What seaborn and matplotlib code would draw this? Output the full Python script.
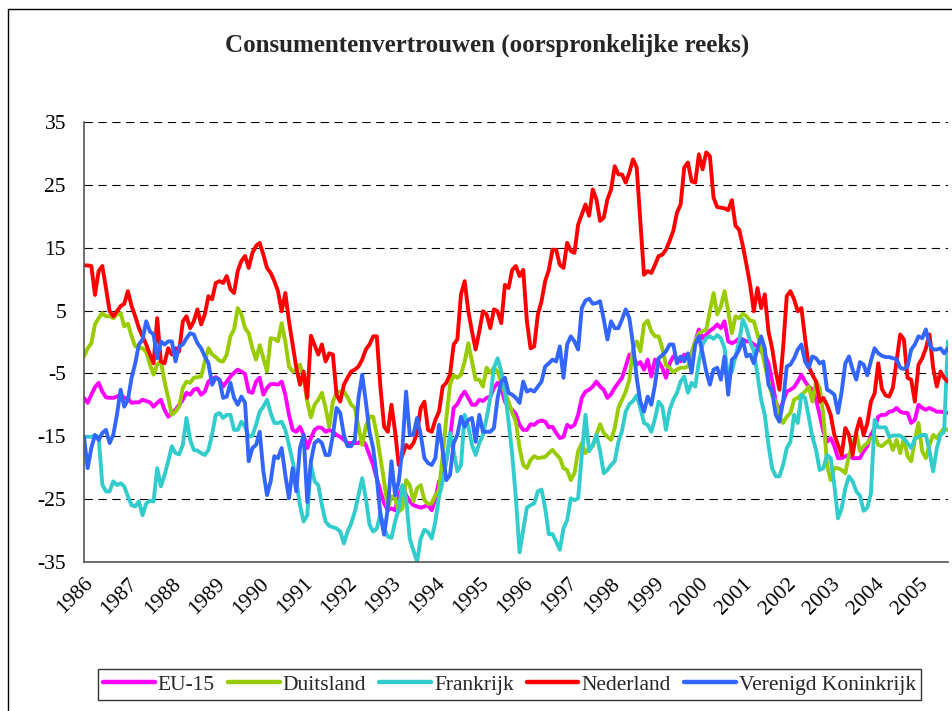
import numpy as np
import pandas as pd
import matplotlib
matplotlib.use("Agg")
import matplotlib.pyplot as plt
import seaborn as sns
from matplotlib.lines import Line2D

# ---------------- data (monthly, Jan 1986 - Sep 2005) ----------------
start_year = 1986
series_names = ["EU-15", "Duitsland", "Frankrijk", "Nederland", "Verenigd Koninkrijk"]
series_colors = ["#FF00FF", "#99CC00", "#33CCCC", "#FF0000", "#3366FF"]
year_labels = [str(y) for y in range(1986, 2006)]
y_ticks = [-35, -25, -15, -5, 5, 15, 25, 35]

eu15 = [
    -8.9, -9.7, -8.4, -7.2, -6.5, -7.9, -8.8, -8.9, -8.9, -8.7, -8.4, -8.9,
    -9.0, -9.7, -9.6, -9.6, -9.2, -9.4, -9.6, -10.3, -9.7, -9.2, -10.8, -11.9,
    -11.3, -10.8, -10.0, -9.2, -8.1, -8.4, -7.6, -7.4, -8.4, -7.9, -6.3, -5.9,
    -5.6, -6.0, -7.1, -6.3, -5.5, -4.9, -4.4, -4.7, -5.1, -7.9, -8.1, -6.3,
    -5.7, -8.4, -7.3, -6.7, -6.7, -6.8, -6.3, -8.4, -11.6, -14.0, -14.3, -13.5,
    -14.8, -16.9, -15.3, -14.0, -13.6, -13.7, -14.3, -14.0, -14.3, -14.8, -15.1, -15.6,
    -16.1, -16.1, -16.1, -16.1, -15.6, -16.4, -18.0, -19.6, -21.7, -23.8, -25.7, -26.8,
    -26.5, -26.8, -24.4, -23.0, -24.4, -25.4, -26.0, -26.2, -26.4, -26.2, -26.0, -26.8,
    -24.9, -22.2, -21.7, -18.8, -15.3, -10.5, -9.9, -8.7, -7.9, -8.9, -10.0, -10.0,
    -9.2, -9.4, -8.9, -8.7, -7.3, -6.5, -7.3, -9.5, -10.4, -10.8, -11.5, -13.2,
    -14.0, -14.0, -13.1, -13.2, -12.7, -12.5, -12.7, -13.6, -13.5, -14.5, -15.3, -15.1,
    -13.2, -13.6, -13.2, -11.6, -8.9, -7.9, -7.6, -7.1, -6.3, -7.1, -7.6, -8.9,
    -8.3, -7.3, -6.5, -5.7, -3.9, -2.0, -2.1, -3.6, -3.2, -4.4, -2.8, -5.5,
    -2.8, -3.1, -4.1, -5.7, -3.4, -2.3, -2.6, -3.1, -2.0, -2.4, -1.8, 0.1,
    2.0, 0.6, 1.2, 1.8, 2.2, 2.8, 2.2, 3.3, 0.1, -0.2, 0.1, 0.6,
    0.4, 0.1, 0.1, -0.4, -0.7, -1.5, -2.0, -3.4, -6.2, -9.5, -11.1, -9.5,
    -7.9, -7.6, -7.2, -6.3, -5.2, -6.3, -7.1, -7.6, -9.2, -11.6, -14.3, -15.9,
    -15.3, -16.6, -18.5, -18.5, -18.2, -18.0, -18.5, -18.5, -18.5, -17.4, -16.6, -14.8,
    -13.7, -11.9, -11.6, -11.6, -11.1, -11.0, -10.5, -11.1, -11.3, -11.3, -12.9, -12.4,
    -10.0, -10.5, -10.8, -10.5, -10.8, -11.1, -11.1, -11.2, -11.3,
]

duitsland = [
    -2.3, -1.0, -0.2, 2.8, 3.8, 4.6, 4.1, 4.1, 3.8, 4.4, 4.6, 2.5,
    2.9, 0.9, -0.7, -0.9, -1.0, -1.6, -3.6, -5.2, -3.6, -3.1, -6.3, -8.9,
    -11.6, -11.1, -10.3, -7.3, -6.3, -6.5, -5.7, -5.6, -5.5, -3.1, -1.0, -2.0,
    -2.4, -3.0, -3.1, -2.0, 0.9, 2.0, 5.4, 4.4, 2.2, 1.4, -1.0, -2.8,
    -0.5, -2.6, -4.7, 0.6, 0.5, 0.1, 3.0, 0.1, -3.9, -4.7, -4.4, -3.6,
    -5.7, -9.5, -12.0, -10.0, -9.2, -8.1, -10.5, -13.5, -9.5, -8.1, -7.9, -7.9,
    -8.8, -10.0, -10.5, -13.5, -16.4, -13.5, -11.9, -11.9, -14.8, -18.5, -22.2, -26.5,
    -24.6, -24.9, -27.0, -26.5, -22.0, -22.8, -25.4, -23.3, -22.8, -25.2, -25.8, -25.7,
    -24.4, -23.6, -18.0, -12.1, -6.8, -5.3, -5.7, -5.2, -3.1, -0.2, -3.1, -6.0,
    -6.0, -7.1, -4.1, -4.9, -4.1, -4.7, -6.5, -8.1, -9.5, -11.3, -12.7, -16.9,
    -19.6, -20.1, -18.8, -18.2, -18.5, -18.4, -18.3, -17.7, -17.2, -17.9, -18.5, -20.1,
    -20.4, -22.0, -20.9, -17.4, -16.1, -17.7, -16.9, -16.6, -14.8, -13.1, -14.5, -15.1,
    -15.6, -13.7, -10.5, -9.2, -7.9, -6.0, -1.0, 0.1, -1.5, 2.8, 3.4, 1.7,
    0.9, 0.9, -1.0, -3.7, -4.1, -4.8, -4.4, -4.1, -4.1, -3.9, -1.8, 0.1,
    1.4, 1.7, 2.0, 4.9, 7.8, 4.4, 5.7, 8.1, 4.9, 1.4, 4.1, 3.8,
    4.5, 4.1, 3.4, 3.3, 1.2, -1.0, -3.6, -6.3, -8.5, -9.5, -11.9, -12.9,
    -11.9, -11.3, -9.2, -8.9, -8.4, -7.9, -7.1, -9.5, -6.3, -7.3, -11.6, -19.6,
    -22.0, -20.1, -20.1, -20.4, -20.9, -18.0, -16.4, -14.5, -17.4, -16.6, -16.1, -15.3,
    -15.0, -16.4, -16.6, -16.1, -15.6, -17.2, -15.6, -17.7, -15.3, -18.2, -19.0, -15.6,
    -12.9, -17.4, -18.5, -16.4, -14.8, -15.3, -14.5, -13.7, -14.0,
]

frankrijk = [
    -15.1, -15.1, -15.1, -14.9, -15.1, -22.7, -23.8, -23.8, -22.2, -22.8, -22.5, -23.0,
    -24.6, -26.0, -26.2, -25.4, -27.6, -25.7, -25.3, -25.4, -20.1, -23.0, -21.2, -19.0,
    -16.6, -17.7, -17.9, -16.4, -12.1, -15.6, -17.2, -17.3, -17.7, -18.0, -17.2, -14.7,
    -11.6, -11.3, -12.1, -11.6, -11.6, -14.0, -14.0, -12.7, -13.5, -15.1, -14.9, -13.2,
    -11.1, -10.3, -9.2, -11.3, -12.9, -12.9, -12.7, -14.0, -16.4, -19.0, -22.0, -26.0,
    -28.6, -27.6, -19.5, -22.2, -22.8, -26.0, -28.6, -29.3, -29.5, -29.7, -30.2, -32.1,
    -30.2, -28.9, -27.0, -24.4, -21.7, -24.9, -29.1, -30.2, -29.7, -27.3, -29.7, -31.0,
    -31.2, -28.6, -26.5, -22.8, -24.9, -31.3, -33.2, -35.0, -31.3, -29.9, -30.3, -31.3,
    -28.6, -24.6, -22.2, -19.0, -14.5, -17.4, -20.6, -19.6, -11.6, -13.5, -16.4, -18.0,
    -16.1, -14.8, -12.1, -8.9, -4.1, -2.6, -4.7, -7.9, -12.7, -18.0, -24.9, -33.5,
    -30.0, -26.4, -26.0, -25.7, -23.8, -23.5, -26.5, -30.6, -30.6, -31.8, -33.1, -29.7,
    -28.4, -24.9, -25.2, -24.9, -18.0, -11.6, -17.4, -16.4, -14.8, -17.4, -20.9, -20.4,
    -19.6, -19.0, -15.9, -14.1, -11.1, -9.9, -9.4, -8.5, -10.5, -12.9, -13.2, -14.3,
    -12.2, -9.5, -10.3, -14.0, -10.8, -9.2, -8.1, -6.3, -5.5, -8.1, -6.5, -7.1,
    -3.1, -0.4, 0.6, 0.9, 0.5, 1.1, 0.6, -1.0, -5.7, -4.7, -2.3, 0.1,
    3.6, 2.2, 0.1, -1.5, -5.2, -9.2, -11.6, -16.4, -20.1, -21.4, -21.4, -19.6,
    -16.9, -15.9, -11.6, -12.9, -8.4, -8.9, -11.9, -15.1, -17.2, -20.4, -20.1, -18.0,
    -18.5, -22.8, -28.1, -26.5, -23.3, -21.4, -22.2, -23.8, -24.5, -26.9, -26.4, -24.1,
    -12.4, -13.6, -13.6, -13.6, -15.1, -14.9, -14.9, -14.9, -15.4, -16.1, -16.9, -15.4,
    -15.1, -14.8, -14.8, -17.4, -20.6, -16.9, -14.8, -14.3, 0.1,
]

nederland = [
    12.2, 12.2, 12.1, 7.5, 11.3, 12.1, 8.6, 4.9, 4.1, 4.9, 5.7, 6.1,
    8.1, 5.7, 4.1, 2.2, 0.9, -0.4, -2.0, -3.4, 3.8, -3.1, -3.4, -1.0,
    -2.0, -1.0, -1.5, 3.3, 4.1, 2.2, 3.3, 5.2, 2.8, 4.4, 7.3, 6.8,
    9.4, 9.7, 9.4, 10.5, 8.4, 7.8, 11.3, 12.9, 13.7, 11.8, 14.2, 15.3,
    15.8, 13.9, 11.8, 11.0, 9.7, 8.1, 4.9, 7.8, 3.3, -0.4, -4.1, -6.8,
    -4.7, -8.9, 1.0, -0.5, -2.0, -0.4, -3.1, -1.8, -2.0, -8.4, -9.5, -6.8,
    -5.7, -4.7, -4.4, -3.9, -2.8, -1.2, -0.4, 0.9, 0.9, -7.3, -13.5, -14.3,
    -10.0, -14.3, -19.6, -18.0, -16.4, -16.9, -16.1, -14.5, -10.5, -9.5, -14.0, -14.3,
    -12.4, -11.1, -7.1, -6.5, -5.2, -0.4, 0.4, 7.6, 9.7, 4.9, 1.7, -1.2,
    1.7, 4.9, 4.4, 2.2, 5.2, 4.9, 3.0, 9.1, 8.6, 11.5, 12.1, 10.5,
    11.5, 3.3, -1.0, -0.7, 4.4, 6.5, 9.7, 11.5, 14.7, 14.7, 12.3, 11.8,
    15.8, 14.5, 14.2, 18.7, 20.3, 21.9, 20.1, 24.3, 22.7, 19.3, 19.8, 22.7,
    24.3, 28.0, 26.7, 26.7, 25.4, 27.0, 29.1, 27.8, 19.3, 10.7, 11.3, 11.0,
    12.3, 13.7, 13.9, 14.7, 16.1, 17.7, 20.6, 21.9, 27.8, 28.6, 25.6, 25.4,
    29.9, 27.5, 30.2, 29.6, 23.0, 21.5, 21.4, 21.3, 21.0, 22.6, 18.5, 17.9,
    15.3, 12.3, 9.1, 4.9, 8.6, 5.4, 7.6, 1.7, -1.0, -4.7, -7.6, -1.0,
    7.3, 8.1, 6.8, 4.9, 5.4, 0.6, -3.9, -5.2, -6.3, -9.5, -8.9, -10.0,
    -11.6, -14.8, -16.4, -18.0, -13.7, -14.8, -18.0, -14.3, -12.2, -14.8, -13.0, -9.5,
    -8.2, -3.4, -7.5, -8.5, -8.7, -7.3, -3.1, 1.2, 0.4, -5.7, -6.0, -9.5,
    -3.6, -2.6, -1.0, 1.2, -4.1, -7.1, -4.7, -5.7, -6.3,
]

verenigd_koninkrijk = [
    -15.1, -20.1, -16.9, -14.8, -15.6, -14.5, -14.0, -16.1, -14.8, -11.6, -7.6, -10.3,
    -9.2, -5.7, -3.4, -0.4, 0.4, 3.3, 1.7, 1.2, -2.6, 0.1, -0.4, 0.1,
    0.1, -3.1, -0.7, -0.4, 0.6, 1.4, 1.2, -0.2, -1.0, -2.3, -3.4, -6.8,
    -5.7, -6.0, -8.9, -8.7, -6.5, -8.9, -10.0, -8.7, -9.7, -19.0, -16.9, -16.4,
    -14.3, -20.6, -24.4, -22.2, -18.2, -18.5, -16.9, -21.2, -24.9, -20.1, -23.8, -16.9,
    -14.8, -25.5, -19.0, -16.1, -15.6, -16.1, -18.0, -18.0, -14.8, -10.5, -11.3, -14.8,
    -16.6, -16.6, -15.6, -8.9, -5.2, -9.5, -14.3, -16.9, -21.7, -27.6, -30.7, -26.5,
    -19.0, -24.4, -22.2, -16.9, -7.9, -14.8, -14.8, -12.1, -14.8, -18.5, -19.3, -19.6,
    -18.5, -13.2, -17.4, -22.0, -21.2, -16.1, -14.8, -11.9, -13.5, -12.4, -12.1, -15.9,
    -11.6, -14.3, -14.3, -14.3, -13.7, -8.9, -6.3, -5.7, -8.1, -8.4, -8.9, -9.7,
    -6.3, -7.9, -7.6, -7.9, -7.1, -6.3, -3.9, -3.4, -2.8, -3.1, -0.7, -5.7,
    -0.4, 0.9, 0.1, -1.2, 5.4, 6.6, 6.9, 6.1, 6.2, 6.5, 3.6, 0.4,
    3.3, 2.2, 2.2, 3.6, 5.2, 3.8, -0.4, -5.7, -9.5, -11.1, -8.7, -10.0,
    -6.8, -2.6, -2.1, -1.5, -0.4, -0.4, -3.4, -2.3, -3.1, -1.8, -4.9, -0.4,
    0.9, -1.8, -4.7, -6.8, -4.4, -4.1, -6.0, -2.3, -8.4, -2.8, -2.3, -1.2,
    0.4, -2.3, -2.0, -3.4, -1.0, 0.9, -1.0, -6.8, -7.8, -11.6, -12.7, -9.5,
    -3.9, -3.6, -2.6, -1.2, -0.4, -3.1, -4.1, -2.3, -2.6, -3.4, -3.1, -7.6,
    -7.9, -8.4, -11.3, -7.9, -3.4, -2.3, -4.4, -6.0, -3.2, -3.6, -5.3, -3.0,
    -1.0, -1.8, -2.2, -2.4, -2.4, -2.6, -2.7, -4.1, -4.3, -3.9, -1.2, -0.4,
    0.9, 0.6, 2.0, -0.4, -1.2, -1.2, -1.0, -1.8, -1.0,
]

# ---------------- build long-form table ----------------
all_series = [eu15, duitsland, frankrijk, nederland, verenigd_koninkrijk]
n = len(eu15)
months = start_year + np.arange(n) / 12.0
frames = []
for name, vals in zip(series_names, all_series):
    frames.append(pd.DataFrame({"jaar": months[:len(vals)], "waarde": vals, "reeks": name}))
df = pd.concat(frames, ignore_index=True)

# ---------------- style ----------------
sns.set_style("white")
plt.rcParams["font.family"] = ["Liberation Serif", "DejaVu Serif"]

W, H = 953, 711
fig = plt.figure(figsize=(W / 100, H / 100), dpi=100)
ax = fig.add_axes([84 / W, 1 - 561.7 / H, (947.8 - 84) / W, (561.7 - 122.3) / H])

sns.lineplot(data=df, x="jaar", y="waarde", hue="reeks", hue_order=series_names,
             palette=series_colors, linewidth=2.8, ax=ax, legend=False,
             estimator=None, sort=False)

ax.set_xlim(months[0], months[-1])
ax.set_ylim(-35, 35)
ax.set_yticks(y_ticks)
ax.set_yticklabels([str(v) for v in y_ticks], fontsize=15.5)
ax.set_xticks([int(y) for y in year_labels])
ax.set_xticklabels(year_labels, rotation=45, ha="right", va="top",
                   rotation_mode="anchor", fontsize=15.5)
ax.set_xlabel("")
ax.set_ylabel("")

ax.grid(False)
for yv in y_ticks[1:]:
    ax.axhline(yv, color="black", linewidth=0.8, linestyle=(0, (7.5, 5)), zorder=0.5)

for side in ["top", "right"]:
    ax.spines[side].set_visible(False)
for side in ["left", "bottom"]:
    ax.spines[side].set_color("#555555")
    ax.spines[side].set_linewidth(1.2)
ax.tick_params(axis="both", direction="out", colors="#555555", labelcolor="black")
ax.tick_params(axis="y", length=5, width=1.2, pad=8)
ax.tick_params(axis="x", length=4, width=1.2, pad=5)

fig.text(487 / W, 1 - 45 / H, "Consumentenvertrouwen (oorspronkelijke reeks)",
         ha="center", va="center", fontsize=18, fontweight="bold")

handles = [Line2D([0], [0], color=c, linewidth=3.2) for c in series_colors]
leg = fig.legend(handles, series_names, loc="center",
                 bbox_to_anchor=(509.5 / W, 1 - 684.5 / H), ncol=5,
                 fontsize=15.5, frameon=True, fancybox=False, shadow=False,
                 edgecolor="black", handlelength=2.4, handletextpad=0.15,
                 columnspacing=0.6, borderpad=0.25, borderaxespad=0)
leg.get_frame().set_linewidth(1.0)

# chart area border
fig.add_artist(Line2D([8 / W, 8 / W], [0, 1 - 9 / H], color="black", linewidth=1.0,
                      transform=fig.transFigure))
fig.add_artist(Line2D([8 / W, 1.0], [1 - 9 / H, 1 - 9 / H], color="black", linewidth=1.0,
                      transform=fig.transFigure))

fig.savefig("out.png", dpi=100)
